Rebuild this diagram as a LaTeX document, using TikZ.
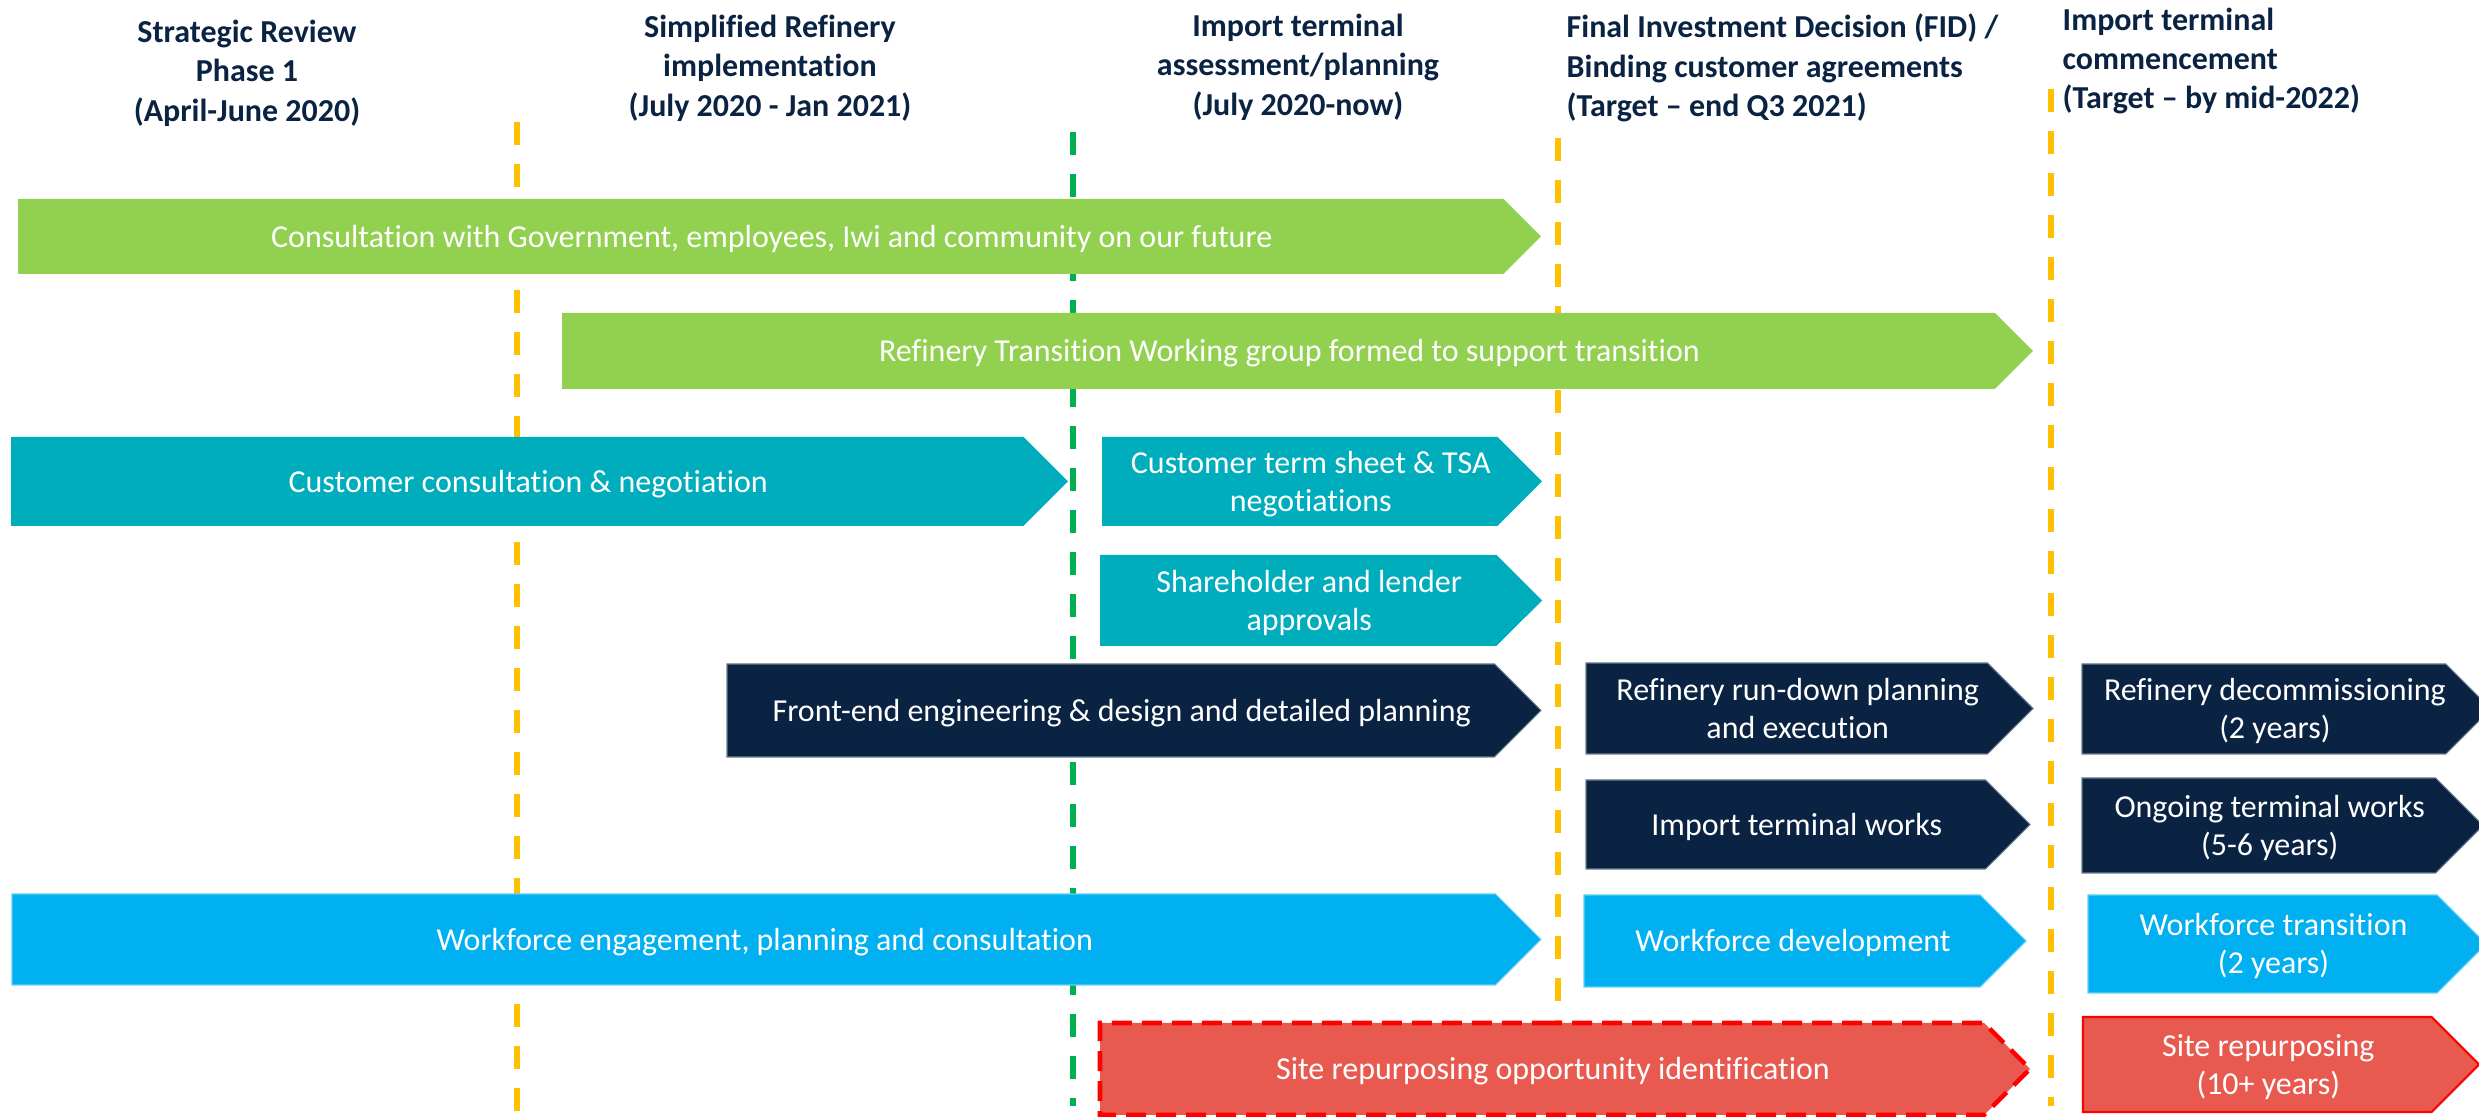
\documentclass[tikz,border=0pt]{standalone}
\usepackage{fontspec}
\setmainfont{Carlito}[Ligatures=NoCommon]
\usepackage{xcolor}
\usepackage{tikz}
\usetikzlibrary{shapes.symbols}
\definecolor{leafgreen}{HTML}{92D050}
\definecolor{tealbar}{HTML}{00ADBD}
\definecolor{navybar}{HTML}{0B2343}
\definecolor{skybar}{HTML}{00B0F0}
\definecolor{redbar}{HTML}{E85A50}
\definecolor{ambermark}{HTML}{FFC000}
\definecolor{greenmark}{HTML}{00B050}
\colorlet{headtext}{navybar}
% bar text sits a little towards the point and a touch low, so pad left and top
\newcommand{\barlabel}[1]{\hspace*{2.2mm}\raisebox{0pt}[\dimexpr\height+0.6mm\relax]{\begin{tabular}{@{}c@{}}#1\end{tabular}}}

\begin{document}
\begin{tikzpicture}[x=0.1mm,y=-0.1mm,
  bar/.style={shape=signal,signal to=east,signal pointer angle=90,anchor=west,
    inner sep=0pt,outer sep=0pt,text=white,font=\fontsize{9.1}{10.9}\selectfont},
  phase/.style={text=headtext,inner sep=0pt,font=\bfseries\fontsize{9.1}{11.2}\selectfont},
  marker/.style={line width=1.5pt,dash pattern=on 2.35mm off 1.85mm}]
\useasboundingbox (0,0) rectangle (2479,1117);
% phase headings
\node[phase,align=center] (hReview) at (247,73) {Strategic Review\\Phase 1\\(April-June 2020)};
\node[phase,align=center] (hSimple) at (770,68) {Simplified Refinery\\implementation\\(July 2020 - Jan 2021)};
\node[phase,align=center] (hAssess) at (1298,67) {Import terminal\\assessment/planning\\(July 2020-now)};
\node[phase,align=left,anchor=west] (hFid) at (1566,68) {Final Investment Decision (FID) /\\Binding customer agreements\\(Target -- end Q3 2021)};
\node[phase,align=left,anchor=west] (hStart) at (2062,61) {Import terminal\\commencement\\(Target -- by mid-2022)};
% milestone lines, behind the bars
\draw[marker,ambermark] (517,122) -- (517,1117);
\draw[marker,greenmark] (1073,132) -- (1073,1106);
\draw[marker,ambermark] (1558,138) -- (1558,1100);
\draw[marker,ambermark] (2051,89) -- (2051,1106);
% consultation streams
\node[bar,fill=leafgreen,minimum width=152.3mm,minimum height=7.5mm] (consult) at (18,236.5)
  {\barlabel{Consultation with Government, employees, Iwi and community on our future}};
\node[bar,fill=leafgreen,minimum width=147.1mm,minimum height=7.6mm] (rtwg) at (562,351)
  {\barlabel{Refinery Transition Working group formed to support transition}};
% customers
\node[bar,fill=tealbar,minimum width=105.7mm,minimum height=8.9mm] (custConsult) at (11,481.5)
  {\barlabel{Customer consultation \& negotiation}};
\node[bar,fill=tealbar,minimum width=44mm,minimum height=8.9mm] (termSheet) at (1102,481.5)
  {\barlabel{Customer term sheet \& TSA\\negotiations}};
\node[bar,fill=tealbar,minimum width=44.2mm,minimum height=9.1mm] (approvals) at (1100,600.5)
  {\barlabel{Shareholder and lender\\approvals}};
% engineering and terminal
\node[bar,fill=navybar,draw=navybar!60!white,line width=0.3pt,minimum width=81.4mm,minimum height=9.3mm] (feed) at (727,710.5)
  {\barlabel{Front-end engineering \& design and detailed planning}};
\node[bar,fill=navybar,draw=navybar!60!white,line width=0.3pt,minimum width=44.7mm,minimum height=9.1mm] (runDown) at (1586,708.5)
  {\barlabel{Refinery run-down planning\\and execution}};
\node[bar,fill=navybar,draw=navybar!60!white,line width=0.3pt,minimum width=40.6mm,minimum height=9mm] (decom) at (2082,709)
  {\barlabel{Refinery decommissioning\\(2 years)}};
\node[bar,fill=navybar,draw=navybar!60!white,line width=0.3pt,minimum width=44.4mm,minimum height=8.9mm] (termWorks) at (1586,824.5)
  {\barlabel{Import terminal works}};
\node[bar,fill=navybar,draw=navybar!60!white,line width=0.3pt,minimum width=40.1mm,minimum height=9.5mm] (ongoing) at (2082,825.5)
  {\barlabel{Ongoing terminal works\\(5-6 years)}};
% workforce
\node[bar,fill=skybar,draw=skybar!60!white,line width=0.3pt,minimum width=152.9mm,minimum height=9.1mm] (wfEngage) at (12,939.5)
  {\barlabel{Workforce engagement, planning and consultation}};
\node[bar,fill=skybar,draw=skybar!60!white,line width=0.3pt,minimum width=44.2mm,minimum height=9.2mm] (wfDev) at (1584,941)
  {\barlabel{Workforce development}};
\node[bar,fill=skybar,draw=skybar!60!white,line width=0.3pt,minimum width=39.8mm,minimum height=9.8mm] (wfTrans) at (2088,944)
  {\barlabel{Workforce transition\\(2 years)}};
% site
\node[bar,fill=redbar,draw=red,line width=1.3pt,dash pattern=on 2mm off 1mm,minimum width=93mm,minimum height=9.2mm] (siteId) at (1100,1069)
  {\barlabel{Site repurposing opportunity identification}};
\node[bar,fill=redbar,draw=red,line width=0.6pt,minimum width=39.6mm,minimum height=9.5mm] (siteRep) at (2083,1064.5)
  {\barlabel{Site repurposing\\(10+ years)}};
\end{tikzpicture}
\end{document}
